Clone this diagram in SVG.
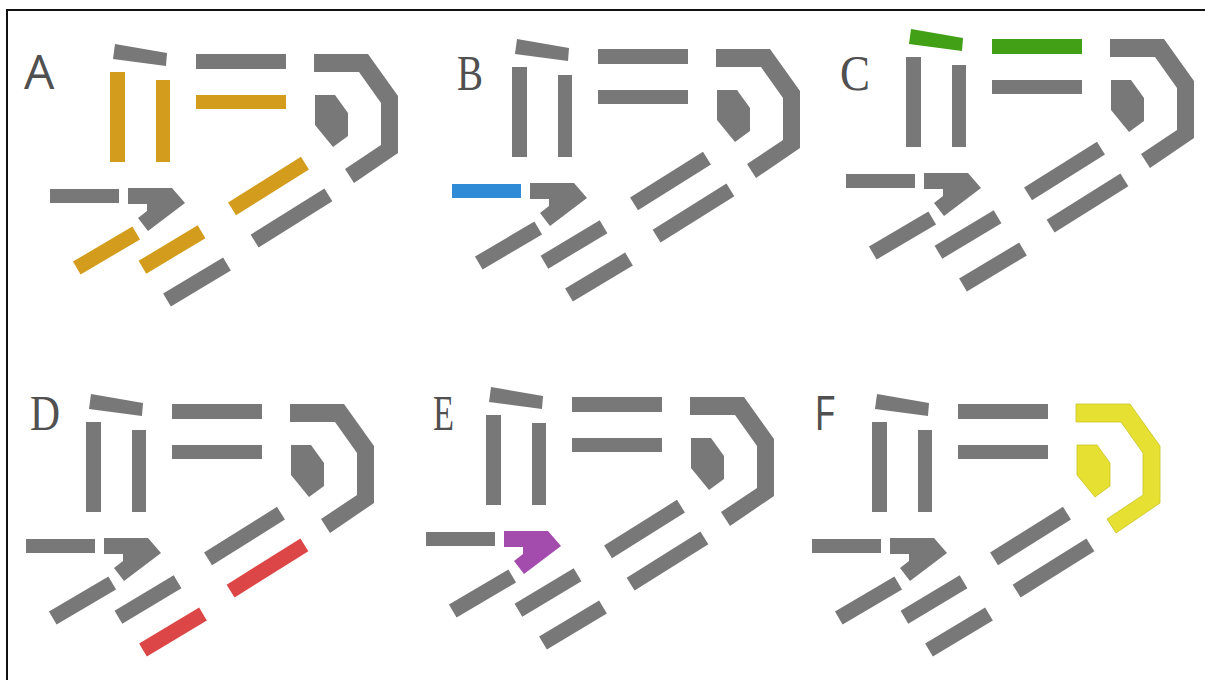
<svg xmlns="http://www.w3.org/2000/svg" xmlns:xlink="http://www.w3.org/1999/xlink" width="1205" height="680" viewBox="0 0 1205 680">
<style>
.g{fill:#787878}
.au{fill:#d49c1c}
.bl{fill:#2f8bd6}
.gr{fill:#41a015}
.rd{fill:#dc4646}
.pu{fill:#a44cae}
.ye{fill:#e6e032;stroke:#c9c424;stroke-width:0.8}
.lbl{fill:#505050;font-size:50px}
.sans{font-family:"Open Sans","Liberation Sans",sans-serif;font-size:48px}
.serif{font-family:"Liberation Serif",serif}
.frame{stroke:#111;stroke-width:2;fill:none}
</style>
<defs>
<polygon id="p-slant" points="115,44 167,53 166,66 113,59"/>
<rect id="p-vl" x="110" y="72" width="15" height="90"/>
<rect id="p-vr" x="156" y="80" width="14" height="82"/>
<rect id="p-ht" x="196" y="54" width="90" height="15"/>
<rect id="p-hm" x="196" y="95" width="90" height="14"/>
<polygon id="p-bracket" points="314,54 368,54 398,96 398,153 354,183 345,169 381,145 381,103 359,72 314,72"/>
<polygon id="p-blob" points="315,95 335,95 348,113 348,136 333,147 315,125"/>
<rect id="p-hl" x="50" y="189" width="69" height="14"/>
<polygon id="p-hook" points="128,188 172,188 185,203 148,231 138,218 147,211 147,204 128,204"/>
<rect id="d-a" x="-34.5" y="-7.5" width="69" height="15" transform="translate(106.5,250.5) rotate(-30.5)"/>
<rect id="d-b" x="-34.5" y="-7.5" width="69" height="15" transform="translate(172,249.5) rotate(-31)"/>
<rect id="d-c" x="-35" y="-7.5" width="70" height="15" transform="translate(197,282) rotate(-31)"/>
<rect id="d-d" x="-43" y="-7.5" width="86" height="15" transform="translate(268.5,186) rotate(-32)"/>
<rect id="d-e" x="-43.5" y="-7.5" width="87" height="15" transform="translate(291.5,218) rotate(-32)"/>
</defs>
<rect width="1205" height="680" fill="#ffffff"/>
<path class="frame" d="M7,680 V10 H1205"/>

<g id="panel-A" transform="translate(0,0)">
<text class="lbl sans" x="24" y="89">A</text>
<use href="#p-slant" class="g"/><use href="#p-vl" class="au"/><use href="#p-vr" class="au"/>
<use href="#p-ht" class="g"/><use href="#p-hm" class="au"/><use href="#p-bracket" class="g"/>
<use href="#p-blob" class="g"/><use href="#p-hl" class="g"/><use href="#p-hook" class="g"/>
<use href="#d-a" class="au"/><use href="#d-b" class="au"/><use href="#d-c" class="g"/>
<use href="#d-d" class="au"/><use href="#d-e" class="g"/>
</g>

<g id="panel-B" transform="translate(402,-5)">
<text class="lbl serif" x="55" y="95" textLength="26" lengthAdjust="spacingAndGlyphs">B</text>
<use href="#p-slant" class="g"/><use href="#p-vl" class="g"/><use href="#p-vr" class="g"/>
<use href="#p-ht" class="g"/><use href="#p-hm" class="g"/><use href="#p-bracket" class="g"/>
<use href="#p-blob" class="g"/><use href="#p-hl" class="bl"/><use href="#p-hook" class="g"/>
<use href="#d-a" class="g"/><use href="#d-b" class="g"/><use href="#d-c" class="g"/>
<use href="#d-d" class="g"/><use href="#d-e" class="g"/>
</g>

<g id="panel-C" transform="translate(796,-15)">
<text class="lbl serif" x="44" y="105" textLength="30" lengthAdjust="spacingAndGlyphs">C</text>
<use href="#p-slant" class="gr"/><use href="#p-vl" class="g"/><use href="#p-vr" class="g"/>
<use href="#p-ht" class="gr"/><use href="#p-hm" class="g"/><use href="#p-bracket" class="g"/>
<use href="#p-blob" class="g"/><use href="#p-hl" class="g"/><use href="#p-hook" class="g"/>
<use href="#d-a" class="g"/><use href="#d-b" class="g"/><use href="#d-c" class="g"/>
<use href="#d-d" class="g"/><use href="#d-e" class="g"/>
</g>

<g id="panel-D" transform="translate(-24,350)">
<text class="lbl serif" x="54" y="80" textLength="30" lengthAdjust="spacingAndGlyphs">D</text>
<use href="#p-slant" class="g"/><use href="#p-vl" class="g"/><use href="#p-vr" class="g"/>
<use href="#p-ht" class="g"/><use href="#p-hm" class="g"/><use href="#p-bracket" class="g"/>
<use href="#p-blob" class="g"/><use href="#p-hl" class="g"/><use href="#p-hook" class="g"/>
<use href="#d-a" class="g"/><use href="#d-b" class="g"/><use href="#d-c" class="rd"/>
<use href="#d-d" class="g"/><use href="#d-e" class="rd"/>
</g>

<g id="panel-E" transform="translate(376,343)">
<text class="lbl serif" x="57" y="87" textLength="21" lengthAdjust="spacingAndGlyphs">E</text>
<use href="#p-slant" class="g"/><use href="#p-vl" class="g"/><use href="#p-vr" class="g"/>
<use href="#p-ht" class="g"/><use href="#p-hm" class="g"/><use href="#p-bracket" class="g"/>
<use href="#p-blob" class="g"/><use href="#p-hl" class="g"/><use href="#p-hook" class="pu"/>
<use href="#d-a" class="g"/><use href="#d-b" class="g"/><use href="#d-c" class="g"/>
<use href="#d-d" class="g"/><use href="#d-e" class="g"/>
</g>

<g id="panel-F" transform="translate(762,350)">
<text class="lbl sans" x="52" y="80" textLength="21" lengthAdjust="spacingAndGlyphs">F</text>
<use href="#p-slant" class="g"/><use href="#p-vl" class="g"/><use href="#p-vr" class="g"/>
<use href="#p-ht" class="g"/><use href="#p-hm" class="g"/><use href="#p-bracket" class="ye"/>
<use href="#p-blob" class="ye"/><use href="#p-hl" class="g"/><use href="#p-hook" class="g"/>
<use href="#d-a" class="g"/><use href="#d-b" class="g"/><use href="#d-c" class="g"/>
<use href="#d-d" class="g"/><use href="#d-e" class="g"/>
</g>
</svg>
